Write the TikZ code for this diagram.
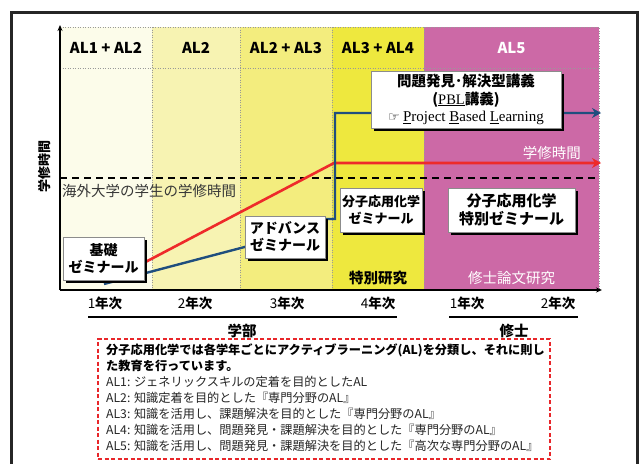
\documentclass[tikz,border=0pt]{standalone}
\usepackage{fontspec}
\setmainfont{Noto Sans CJK JP}
\newfontfamily\serifjp{Liberation Serif}
\newfontfamily\symfont{DejaVu Sans}
\usetikzlibrary{arrows.meta,shadows}
\definecolor{colA}{HTML}{FCFCEA}
\definecolor{colB}{HTML}{F7F3B2}
\definecolor{colC}{HTML}{F3ED7E}
\definecolor{colD}{HTML}{EEE83E}
\definecolor{colE}{HTML}{CC69A6}
\definecolor{redln}{HTML}{EE2A2A}
\definecolor{blueln}{HTML}{1F4E7E}
\definecolor{dashred}{HTML}{E8262A}
\newcommand\pxs[2]{\fontsize{#1}{#2}\selectfont}
\begin{document}
\begin{tikzpicture}[x=1pt,y=-1pt,
  hdr/.style={font=\bfseries\pxs{15}{17}, inner sep=0pt},
  wbox/.style={draw=black!45, line width=0.6pt, fill=white,
    drop shadow={shadow xshift=3pt,shadow yshift=-3pt,opacity=1,fill=black},
    align=center, inner sep=0pt, font=\bfseries\pxs{14}{17}},
  coldiv/.style={draw=black!40, dotted, line width=0.5pt},
  yr/.style={font=\bfseries\pxs{13.5}{15}, inner sep=0pt},
  lbl/.style={inner sep=0pt, font=\pxs{14.5}{16}},
  lineR/.style={draw=redln, line width=2.6pt, -{Stealth[length=9pt,width=10pt,inset=3pt]}},
  lineB/.style={draw=blueln, line width=2.4pt, -{Stealth[length=9pt,width=10pt,inset=3pt]}},
  axis/.style={draw=black, line width=1.2pt, -{Stealth[length=6pt,width=5pt]}}
]
\useasboundingbox (0,0) rectangle (644,463);
\clip (0,0) rectangle (644,463);
\fill[white] (0,0) rectangle (644,463);

% column backgrounds
\fill[colA] (60,27) rectangle (152,290);
\fill[colB] (152,27) rectangle (240,290);
\fill[colC] (240,27) rectangle (332,290);
\fill[colD] (332,27) rectangle (424,290);
\fill[colE] (424,27) rectangle (599,290);
\draw[coldiv] (60,27) -- (599,27) -- (599,290);
\draw[coldiv] (60,68) -- (599,68);
\foreach \xx in {152,240,332,424} \draw[coldiv] (\xx,27) -- (\xx,290);

% headers
\node[hdr] (h1) at (106,48) {AL1 + AL2};
\node[hdr] (h2) at (196,48) {AL2};
\node[hdr] (h3) at (286,48) {AL2 + AL3};
\node[hdr] (h4) at (378,48) {AL3 + AL4};
\node[hdr, text=white] (h5) at (511.5,48) {AL5};

% dashed reference line
\coordinate (dL) at (60,178);
\coordinate (dR) at (599,178);
\draw[line width=1.8pt, dash pattern=on 7pt off 5pt] (dL) -- (dR);
\node[lbl, anchor=west, text=black!78] (abroad) at (62,191) {海外大学の学生の学修時間};
\node[lbl, anchor=east, text=white] (gakushu) at (581,153) {学修時間};
\node[lbl, font=\bfseries\pxs{14.5}{16}] (tokken) at (378,278) {特別研究};
\node[lbl, text=white] (shuron) at (511.5,278) {修士論文研究};

% lines
\coordinate (r0) at (115,278);
\coordinate (r1) at (334,163);
\coordinate (r2) at (601,163);
\draw[lineR] (r0) -- (r1) -- (r2);
\coordinate (b0) at (104,284);
\coordinate (b1) at (275,239);
\coordinate (b3) at (335,219);
\coordinate (b5) at (601,113);
\draw[lineB] (b0) -- (b1) |- (b3) |- (b5);

% boxes
\node[wbox, minimum width=81pt, minimum height=43pt] (kiso) at (103.5,258.5) {基礎\\ゼミナール};
\node[wbox, minimum width=80pt, minimum height=42pt] (adv) at (285,237) {アドバンス\\ゼミナール};
\node[wbox, minimum width=190pt, minimum height=57pt, font=\bfseries\pxs{14.5}{17.5}] (pbl) at (466,99.5)
  {問題発見･解決型講義\\({\serifjp\mdseries\underline{PBL}}講義)\\
   {\symfont\mdseries\pxs{13}{17.5}☞}\ {\serifjp\mdseries\pxs{15}{17.5}\underline{P}roject \underline{B}ased \underline{L}earning}};
\node[wbox, minimum width=82pt, minimum height=44pt, font=\bfseries\pxs{13}{17}] (semi) at (381,210) {分子応用化学\\ゼミナール};
\node[wbox, minimum width=127pt, minimum height=44pt, font=\bfseries\pxs{15}{18}] (tsemi) at (511.5,210) {分子応用化学\\特別ゼミナール};

% axes
\coordinate (o) at (60,290);
\coordinate (ytop) at (60,25);
\coordinate (xend) at (602,290);
\draw[axis] (o) -- (ytop);
\draw[axis] (o) -- (xend);
\node[rotate=90, font=\bfseries\pxs{13}{15}, inner sep=0pt] (ylab) at (45,166) {学修時間};

% year labels
\node[yr] (y1) at (105,303) {{\mdseries 1}年次};
\node[yr] (y2) at (195,303) {{\mdseries 2}年次};
\node[yr] (y3) at (287,303) {{\mdseries 3}年次};
\node[yr] (y4) at (378,303) {{\mdseries 4}年次};
\node[yr] (m1) at (467,303) {{\mdseries 1}年次};
\node[yr] (m2) at (558,303) {{\mdseries 2}年次};
\coordinate (ugL) at (88,317);
\coordinate (ugR) at (397,317);
\coordinate (mL) at (449,317);
\coordinate (mR) at (578,317);
\draw[line width=2pt] (ugL) -- (ugR);
\draw[line width=2pt] (mL) -- (mR);
\node[yr, font=\bfseries\pxs{14.5}{16}] (gakubu) at (242,331) {学部};
\node[yr, font=\bfseries\pxs{14.5}{16}] (shushi) at (514,331) {修士};

% description box
\node[draw=dashred, line width=1.4pt, dash pattern=on 4pt off 2.5pt, minimum width=452pt, minimum height=120pt, inner sep=0pt] (descbox) at (324,399) {};
\node[anchor=north west, align=left, inner sep=0pt, font=\pxs{12.2}{16}, text=black!85] (desc) at (106,344)
 {{\bfseries\color{black}分子応用化学では各学年ごとにアクティブラーニング(AL)を分類し、それに則し}\\
  {\bfseries\color{black}た教育を行っています。}\\
  AL1: ジェネリックスキルの定着を目的としたAL\\
  AL2: 知識定着を目的とした『専門分野のAL』\\
  AL3: 知識を活用し、課題解決を目的とした『専門分野のAL』\\
  AL4: 知識を活用し、問題発見・課題解決を目的とした『専門分野のAL』\\
  AL5: 知識を活用し、問題発見・課題解決を目的とした『高次な専門分野のAL』};

% outer frame
\draw[line width=3pt, color=black!85] (11,470) -- (11,12.5) -- (637.5,12.5) -- (637.5,470);
\end{tikzpicture}
\end{document}
